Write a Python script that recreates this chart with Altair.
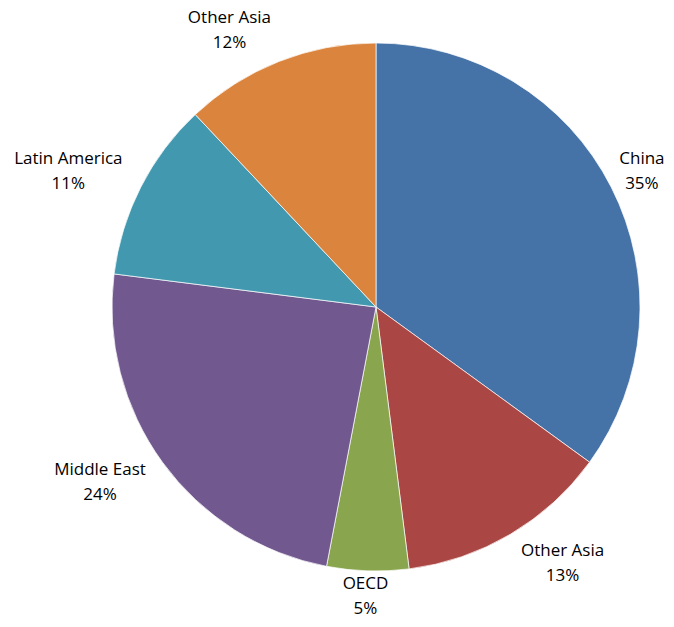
import altair as alt
import pandas as pd

keys = ["s1", "s2", "s3", "s4", "s5", "s6"]
regions = ["China", "Other Asia", "OECD", "Middle East", "Latin America", "Other Asia"]
shares = [35, 13, 5, 24, 11, 12]
colors = ["#4572A7", "#AA4643", "#89A54E", "#71588F", "#4198AF", "#DB843D"]

df = pd.DataFrame({
    "key": keys,
    "region": regions,
    "share": shares,
    "order": list(range(len(keys))),
})
df["pct"] = df["share"].astype(str) + "%"
df["label"] = df.apply(lambda r: [r["region"], r["pct"]], axis=1)

W, H = 658, 611
cx, cy = 368, 299
R = 264

pie = alt.Chart(df).mark_arc(outerRadius=R, stroke="white", strokeWidth=0.7).encode(
    theta=alt.Theta("share:Q", stack=True),
    order=alt.Order("order:Q"),
    color=alt.Color("key:N", scale=alt.Scale(domain=keys, range=colors), legend=None),
    x=alt.value(cx),
    y=alt.value(cy),
)

# Excel-like "best fit" placement: label box sits just outside the slice's mid angle
labels = alt.Chart(df).transform_window(
    cum="sum(share)", sort=[alt.SortField("order")]
).transform_joinaggregate(
    total="sum(share)"
).transform_calculate(
    ang="2*PI*(datum.cum - datum.share/2)/datum.total",
    halfw="max(length(datum.region), length(datum.pct)) * 4.2",
).transform_calculate(
    lx=f"min({cx} + ({R}+20)*sin(datum.ang) + datum.halfw*clamp(3*sin(datum.ang), -1, 1), {W} - datum.halfw*1.1 - 1)",
    ly=f"clamp({cy} - ({R}+10)*cos(datum.ang) - 24*cos(datum.ang), 12.5 + 9.5, {H} - 12.5 - 10)",
).mark_text(
    font="Open Sans", fontSize=17, lineHeight=25, dy=-12.5,
    color="#000000", align="center", baseline="middle",
).encode(
    text="label",
    x=alt.X("lx:Q", scale=None),
    y=alt.Y("ly:Q", scale=None),
)

chart = alt.layer(pie, labels).properties(
    width=W, height=H, autosize="none", padding=0,
).configure_view(stroke=None)

chart.save("out.html", embed_options={"renderer": "svg", "actions": False})
